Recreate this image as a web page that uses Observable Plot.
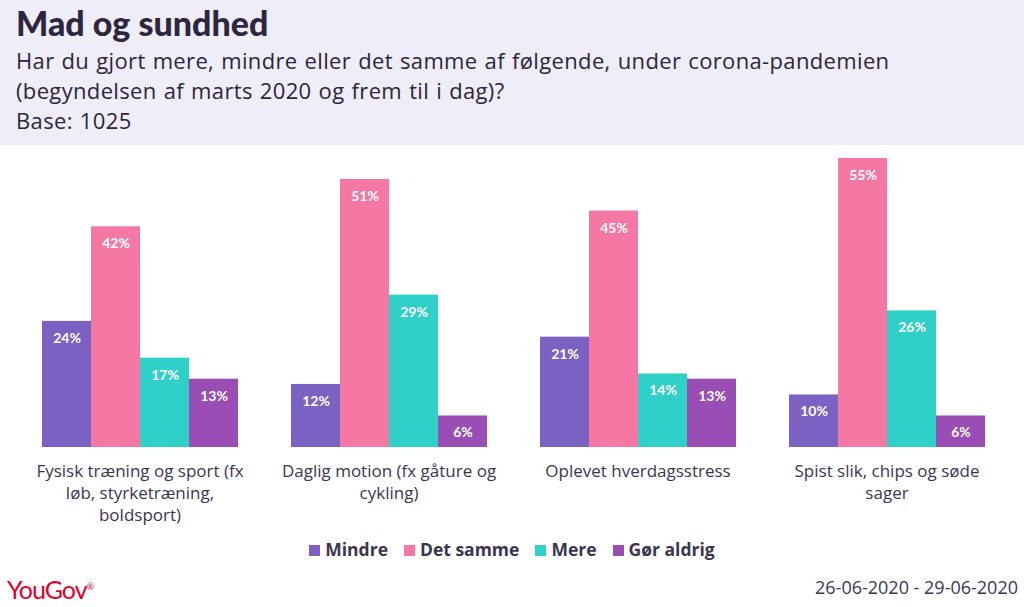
<!DOCTYPE html>
<html><head><meta charset="utf-8">
<script src="https://cdn.jsdelivr.net/npm/d3@7"></script>
<script src="https://cdn.jsdelivr.net/npm/@observablehq/plot@0.6"></script>
<style>
body{margin:0;width:1024px;height:607px;font-family:"Open Sans",sans-serif;background:#fff;color:#2c2640;position:relative;overflow:hidden}
#head{background:#efedf7;height:145px;padding:0 16px;box-sizing:border-box}
h1{margin:0;padding-top:2px;font-size:34px;line-height:42px;font-family:Lato,sans-serif;font-weight:900}
.sub{font-size:22px;letter-spacing:0.35px;word-spacing:1px;line-height:30px;margin-top:1px;color:#2c2640}
#legend{position:absolute;top:537px;left:0;width:1024px;text-align:center;font-size:17.5px;font-weight:bold;color:#3b3650}
#legend span{margin:0 8px}
#legend i{display:inline-block;width:11px;height:11px;margin-right:5px}
#logo{position:absolute;left:7px;top:574px;font-size:25px;color:#e4002b;letter-spacing:-1px;font-family:Lato,sans-serif}
#date{position:absolute;right:6px;top:575px;font-size:18px;color:#3b3650}
#chart{position:absolute;top:145px;left:0}
</style></head><body>
<div id="head"><h1>Mad og sundhed</h1>
<div class="sub">Har du gjort mere, mindre eller det samme af følgende, under corona-pandemien<br>(begyndelsen af marts 2020 og frem til i dag)?<br>Base: 1025</div></div>
<div id="chart"></div>
<div id="legend"></div>
<div id="logo">YouGov<sup style="font-size:9px">®</sup></div>
<div id="date">26-06-2020 - 29-06-2020</div>
<script>
const categories=["Fysisk træning og sport (fx løb, styrketræning, boldsport)","Daglig motion (fx gåture og cykling)","Oplevet hverdagsstress","Spist slik, chips og søde sager"];
const series=["Mindre","Det samme","Mere","Gør aldrig"];
const colors=["#7b61c2","#f577a4","#2fd0c8","#9a4db5"];
const mindre=[24,12,21,10];
const detSamme=[42,51,45,55];
const mere=[17,29,14,26];
const gorAldrig=[13,6,13,6];
const vals=[mindre,detSamme,mere,gorAldrig];
const data=[];
categories.forEach((c,i)=>series.forEach((s,j)=>data.push({c,s,v:vals[j][i]})));
const chart=Plot.plot({
 width:1024,height:385,marginLeft:14,marginRight:12,marginTop:13,marginBottom:83,
 style:{fontFamily:"'Open Sans', sans-serif"},
 fx:{domain:categories,paddingInner:0.2,paddingOuter:0.1,label:null},
 x:{domain:series,padding:0,axis:null},
 y:{domain:[0,55],axis:null},
 color:{domain:series,range:colors},
 marks:[
  Plot.axisFx({anchor:"bottom",tickSize:0,tickPadding:14,fontSize:17,lineWidth:14,lineHeight:1.3,fill:"#3b3650",label:null}),
  Plot.barY(data,{fx:"c",x:"s",y:"v",fill:"s"}),
  Plot.text(data,{fx:"c",x:"s",y:"v",text:d=>d.v+"%",dy:17,fill:"white",fontWeight:"bold",fontSize:14,fontFamily:"Lato, sans-serif"})
 ]});
document.getElementById("chart").append(chart);
document.getElementById("legend").innerHTML=series.map((s,i)=>`<span><i style="background:${colors[i]}"></i>${s}</span>`).join("");
</script></body></html>
